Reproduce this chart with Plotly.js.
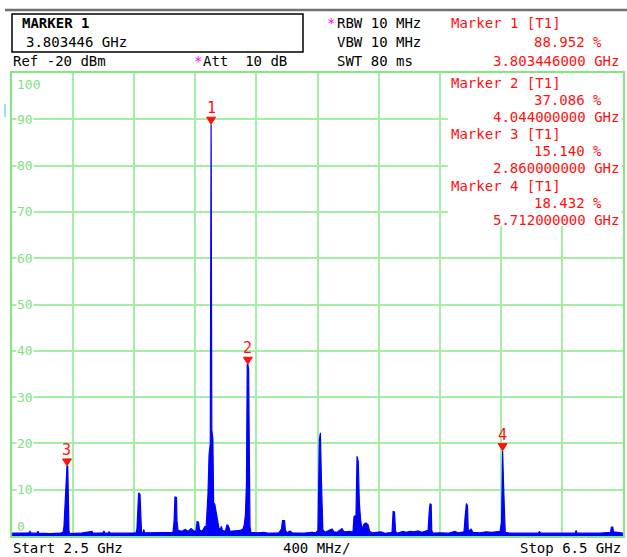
<!DOCTYPE html>
<html><head><meta charset="utf-8">
<script src="https://cdn.plot.ly/plotly-3.0.1.min.js"></script>
<style>html,body{margin:0;padding:0;background:#fff;}#chart{width:627px;height:557px;}</style>
</head><body><div id="chart"></div>
<script>
// ---- data ----
const freqGHz = [2.500,2.552,2.611,2.618,2.624,2.664,2.670,2.677,2.749,2.814,2.834,2.840,2.847,2.853,2.860,2.865,2.868,2.873,2.880,2.945,
3.024,3.031,3.096,3.102,3.109,3.129,3.135,3.142,3.240,3.312,3.318,3.325,3.329,3.338,3.343,3.348,3.358,3.363,3.368,3.470,
3.554,3.561,3.567,3.577,3.580,3.587,3.613,3.633,3.653,3.672,3.685,3.698,3.705,3.712,3.721,3.728,3.744,3.757,3.764,3.770,
3.777,3.783,3.790,3.798,3.803446,3.808,3.815,3.820,3.828,3.835,3.841,3.848,3.854,3.864,3.871,3.877,3.897,3.907,3.917,3.927,
3.960,3.993,4.012,4.021,4.028,4.035,4.040,4.044,4.049,4.053,4.058,4.064,4.103,4.149,4.182,4.247,4.264,4.271,4.284,4.290,
4.300,4.320,4.333,4.412,4.464,4.490,4.503,4.512,4.519,4.526,4.531,4.535,4.549,4.582,4.595,4.608,4.628,4.660,4.673,4.713,
4.732,4.739,4.752,4.759,4.767,4.774,4.782,4.792,4.805,4.818,4.831,4.841,4.857,4.916,4.942,4.988,4.995,5.004,5.011,5.021,
5.060,5.080,5.106,5.132,5.158,5.184,5.224,5.232,5.237,5.244,5.248,5.256,5.302,5.355,5.400,5.420,5.459,5.466,5.475,5.482,
5.487,5.505,5.518,5.564,5.603,5.642,5.669,5.695,5.705,5.712,5.718,5.723,5.729,5.760,5.891,5.947,5.953,5.960,6.088,6.186,
6.193,6.199,6.349,6.418,6.424,6.433,6.438,6.500];
const levelPct = [0.6,0.6,0.7,1.0,0.6,0.6,1.0,0.6,0.5,0.6,0.8,2.0,6.8,12.0,15.14,15.0,3.0,1.0,0.5,0.6,
1.0,0.6,0.7,1.1,0.6,0.6,0.9,0.6,0.6,0.7,1.5,5.0,9.3,9.0,2.0,0.7,0.8,1.4,0.7,0.7,
0.8,3.2,8.4,8.3,3.2,1.2,1.0,1.4,1.0,1.6,1.2,0.9,1.2,3.1,3.0,1.3,1.0,1.6,2.1,1.5,
5.0,9.0,17.5,20.0,88.952,22.9,21.0,7.2,6.8,5.5,4.8,3.5,1.8,1.3,2.1,1.2,1.0,2.4,2.2,1.0,
1.1,1.2,1.5,2.5,4.5,11.5,37.0,37.086,36.0,4.2,2.0,0.8,0.7,0.8,0.6,0.7,1.5,3.3,3.3,1.2,
0.7,1.1,0.7,0.6,0.8,0.7,1.2,20.8,22.3,11.5,6.0,1.4,0.8,1.4,1.5,0.9,0.8,1.6,0.9,1.0,
0.8,4.2,4.5,17.2,16.0,7.2,3.5,1.5,2.6,2.8,2.4,1.0,0.7,0.9,0.6,0.8,5.3,5.2,1.0,0.6,
1.0,0.8,1.0,0.9,1.1,0.8,1.2,5.5,7.0,6.8,1.2,0.6,0.7,0.6,1.0,0.7,0.9,4.0,7.0,6.5,
1.0,1.5,0.8,0.7,0.9,0.8,0.9,1.0,3.0,18.432,11.0,3.0,0.8,0.6,0.6,0.6,1.0,0.6,0.6,0.6,
1.2,0.6,0.6,0.8,1.9,1.9,0.9,0.6];

const markerNames = ['1','2','3','4'];
const markerFreq = [3.803446, 4.044, 2.860, 5.712];
const markerLevel = [88.952, 37.086, 15.140, 18.432];
const markerLevelText = ['88.952 %','37.086 %','15.140 %','18.432 %'];
const markerFreqText = ['3.803446000 GHz','4.044000000 GHz','2.860000000 GHz','5.712000000 GHz'];

const yTickValues = [100,90,80,70,60,50,40,30,20,10,0];
const yTickLabels = ['100','90','80','70','60','50','40','30','20','10','0'];

const startLabel = 'Start 2.5 GHz', spanLabel = '400 MHz/', stopLabel = 'Stop 6.5 GHz';

// ---- layout helpers ----
const W = 627, H = 557, L = 12, R = 4, T = 73, B = 21;
const pw = W - L - R, ph = H - T - B;
const px = x => (x - L) / pw;
const py = y => (H - B - y) / ph;
const MONO = '"DejaVu Sans Mono", "Liberation Mono", monospace';
const RED = '#ff1010', GREEN = '#7fe07f', GRID = '#a4efa4';

function txt(text, x, y, anchor, color, extra) {
  return Object.assign({
    text: text, xref: 'paper', yref: 'paper', x: px(x), y: py(y),
    xanchor: anchor, yanchor: 'middle', showarrow: false,
    font: {family: MONO, size: 14, color: color}
  }, extra || {});
}

const annotations = [];
// header
annotations.push(txt('<b>MARKER 1</b>', 20, 23, 'left', '#000'));
annotations.push(txt('3.803446 GHz', 24, 42, 'left', '#000'));
annotations.push(txt('Ref -20 dBm', 11, 61, 'left', '#000'));
annotations.push(txt('*', 192, 61, 'left', '#ff00ff'));
annotations.push(txt('Att  10 dB', 201, 61, 'left', '#000'));
annotations.push(txt('*', 325, 23, 'left', '#ff00ff'));
annotations.push(txt('RBW 10 MHz', 335, 23, 'left', '#000'));
annotations.push(txt('VBW 10 MHz', 335, 42, 'left', '#000'));
annotations.push(txt('SWT 80 ms', 335, 61, 'left', '#000'));
// marker readouts
const rowY = [[23,42,61],[83,100,117],[134,151,168],[186,203,220]];
for (let i = 0; i < 4; i++) {
  annotations.push(txt('Marker ' + markerNames[i] + ' [T1]', 449, rowY[i][0], 'left', RED));
  annotations.push(txt(markerLevelText[i], 604, rowY[i][1], 'right', RED));
  annotations.push(txt(markerFreqText[i], 621, rowY[i][2], 'right', RED));
}
// marker numbers above peaks
for (let i = 0; i < 4; i++) {
  annotations.push({
    text: markerNames[i], x: markerFreq[i], y: markerLevel[i], xref: 'x', yref: 'y',
    xanchor: 'center', yanchor: 'bottom', yshift: 5, showarrow: false,
    font: {family: MONO, size: 15, color: RED}
  });
}
// y tick labels inside plot
yTickValues.forEach((v, i) => {
  const a = {
    text: yTickLabels[i], xref: 'paper', yref: 'y', x: 0, y: v, xanchor: 'left',
    xshift: 4, showarrow: false, borderpad: 0,
    font: {family: MONO, size: 13, color: GREEN}
  };
  if (v === 100) { a.yanchor = 'top'; a.yshift = -3; }
  else if (v === 0) { a.yanchor = 'bottom'; a.yshift = 1; }
  else { a.yanchor = 'middle'; a.bgcolor = '#fff'; }
  annotations.push(a);
});
// footer
annotations.push(txt(startLabel, 11, 548, 'left', '#000'));
annotations.push(txt(spanLabel, 316, 548, 'center', '#000'));
annotations.push(txt(stopLabel, 623, 548, 'right', '#000'));

const shapes = [
  {type: 'line', xref: 'paper', yref: 'paper', x0: px(5), x1: px(627), y0: py(10), y1: py(10),
   line: {color: '#707070', width: 2.5}},
  {type: 'rect', xref: 'paper', yref: 'paper', x0: px(12), x1: px(303), y0: py(52), y1: py(14),
   line: {color: '#000', width: 1.5}},
  {type: 'rect', xref: 'paper', yref: 'paper', x0: px(448), x1: px(621.5), y0: py(226), y1: py(74),
   fillcolor: '#fff', line: {width: 0}, layer: 'above'},
  {type: 'line', xref: 'paper', yref: 'paper', x0: px(5), x1: px(5), y0: py(117), y1: py(104),
   line: {color: '#22ccee', width: 1}}
];
for (let i = 0; i < 4; i++) {
  shapes.push({
    type: 'path', xref: 'x', yref: 'y', xsizemode: 'pixel', ysizemode: 'pixel',
    xanchor: markerFreq[i], yanchor: markerLevel[i], path: 'M-4.5,7 L4.5,7 L0,0 Z',
    fillcolor: RED, line: {color: RED, width: 1}, layer: 'above'
  });
}

const trace = {
  type: 'scatter', mode: 'lines', x: freqGHz, y: levelPct,
  fill: 'tozeroy', fillcolor: '#0000ff', line: {color: '#0000ff', width: 1.2},
  hoverinfo: 'skip'
};

const layout = {
  width: W, height: H, margin: {l: L, r: R, t: T, b: B},
  paper_bgcolor: '#fff', plot_bgcolor: '#fff', showlegend: false,
  xaxis: {range: [2.5, 6.5], tick0: 2.5, dtick: 0.4, showgrid: true, gridcolor: GRID, gridwidth: 2,
          zeroline: false, showticklabels: false, ticks: '', showline: true, mirror: true,
          linecolor: '#80e880', linewidth: 2, fixedrange: true},
  yaxis: {range: [0, 100], dtick: 10, showgrid: true, gridcolor: GRID, gridwidth: 2,
          zeroline: false, showticklabels: false, ticks: '', showline: true, mirror: true,
          linecolor: '#80e880', linewidth: 2, fixedrange: true},
  annotations: annotations, shapes: shapes
};

Plotly.newPlot('chart', [trace], layout, {displayModeBar: false, staticPlot: true});
</script></body></html>
